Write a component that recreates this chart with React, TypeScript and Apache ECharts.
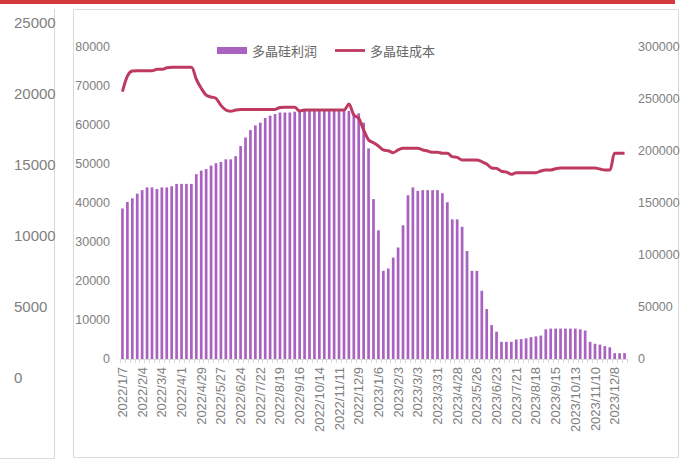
import React, { useEffect, useRef } from "react";
import * as echarts from "echarts";

const categories: string[] = [
  "2022/1/7","2022/1/14","2022/1/21","2022/1/28","2022/2/4","2022/2/11","2022/2/18","2022/2/25",
  "2022/3/4","2022/3/11","2022/3/18","2022/3/25","2022/4/1","2022/4/8","2022/4/15","2022/4/22",
  "2022/4/29","2022/5/6","2022/5/13","2022/5/20","2022/5/27","2022/6/3","2022/6/10","2022/6/17",
  "2022/6/24","2022/7/1","2022/7/8","2022/7/15","2022/7/22","2022/7/29","2022/8/5","2022/8/12",
  "2022/8/19","2022/8/26","2022/9/2","2022/9/9","2022/9/16","2022/9/23","2022/9/30","2022/10/7",
  "2022/10/14","2022/10/21","2022/10/28","2022/11/4","2022/11/11","2022/11/18","2022/11/25","2022/12/2",
  "2022/12/9","2022/12/16","2022/12/23","2022/12/30",
  "2023/1/6","2023/1/13","2023/1/20","2023/1/27","2023/2/3","2023/2/10","2023/2/17","2023/2/24",
  "2023/3/3","2023/3/10","2023/3/17","2023/3/24","2023/3/31","2023/4/7","2023/4/14","2023/4/21",
  "2023/4/28","2023/5/5","2023/5/12","2023/5/19","2023/5/26","2023/6/2","2023/6/9","2023/6/16",
  "2023/6/23","2023/6/30","2023/7/7","2023/7/14","2023/7/21","2023/7/28","2023/8/4","2023/8/11",
  "2023/8/18","2023/8/25","2023/9/1","2023/9/8","2023/9/15","2023/9/22","2023/9/29","2023/10/6",
  "2023/10/13","2023/10/20","2023/10/27","2023/11/3","2023/11/10","2023/11/17","2023/11/24","2023/12/1",
  "2023/12/8","2023/12/15","2023/12/22",
];

// 多晶硅利润 (left axis)
const profit: number[] = [
  38600, 40250, 41200, 42400, 43300, 44000, 44000, 43600, 44000, 44000,
  44300, 44900, 44900, 44900, 44900, 47400, 48300, 48700, 49600, 50200,
  50500, 51200, 51200, 52000, 54600, 56800, 58700, 59900, 60600, 61800,
  62400, 62800, 63200, 63200, 63200, 63400, 63500, 63600, 63600, 63600,
  63600, 63600, 63600, 63600, 63600, 63600, 63600, 63000, 63000, 60600,
  54000, 41000, 33000, 22600, 23200, 26000, 28600, 34300, 42000, 44000,
  43100, 43300, 43300, 43300, 43300, 42500, 40200, 35800, 35800, 33900,
  27700, 22600, 22600, 17500, 12800, 8700, 7000, 4400, 4400, 4400,
  5000, 5100, 5300, 5600, 5800, 6000, 7600, 7800, 7800, 7800,
  7800, 7800, 7800, 7600, 7300, 4400, 3900, 3700, 3300, 3000,
  1500, 1500, 1500,
];

// 多晶硅成本 (right axis)
const cost: number[] = [
  257000, 272000, 277000, 277200, 277200, 277200, 277200, 278500, 278500, 280000,
  280500, 280500, 280500, 280500, 280500, 269000, 260300, 253800, 251900, 250700,
  243900, 239400, 238200, 239400, 240000, 240000, 240000, 240000, 240000, 240000,
  240000, 240000, 241800, 242000, 242000, 242000, 238500, 239400, 239400, 239400,
  239400, 239400, 239400, 239400, 239400, 239400, 245200, 234600, 231400, 220200,
  210600, 208000, 204800, 201000, 200300, 198400, 201000, 202600, 202600, 202600,
  202600, 201000, 200000, 198700, 198700, 197800, 197800, 194500, 193900, 191300,
  191300, 191300, 191300, 189700, 187500, 183600, 183300, 180500, 179800, 177600,
  179100, 179100, 179100, 179100, 179100, 180800, 181700, 181700, 183000, 183600,
  183600, 183600, 183600, 183600, 183600, 183600, 183600, 182700, 181700, 181700,
  197800, 197800, 197800,
];

// cropped neighbouring axis on the far left
const sideTicks = { min: 0, max: 25000, interval: 5000 };
const leftTicks = { min: 0, max: 80000, interval: 10000 };
const rightTicks = { min: 0, max: 300000, interval: 50000 };

const LABEL_FONT = "'Liberation Sans', Arial, sans-serif";
const GREY = "#808080";
const plain = (v: number) => String(v);

export default function App() {
  const ref = useRef<HTMLDivElement>(null);
  useEffect(() => {
    if (!ref.current) return;
    const chart = echarts.init(ref.current, undefined, { renderer: "svg" });
    chart.setOption({
      animation: false,
      backgroundColor: "#ffffff",
      graphic: [
        { type: "rect", shape: { x: 0, y: 0, width: 675, height: 4 }, style: { fill: "#d43a3d" }, silent: true },
        { type: "line", shape: { x1: 54.5, y1: 9, x2: 54.5, y2: 458.5 }, style: { stroke: "#d9d9d9", lineWidth: 1 }, silent: true },
        { type: "line", shape: { x1: 0, y1: 458.5, x2: 54.5, y2: 458.5 }, style: { stroke: "#d9d9d9", lineWidth: 1 }, silent: true },
        { type: "rect", shape: { x: 73.5, y: 9.5, width: 605, height: 448 }, style: { fill: "none", stroke: "#d9d9d9", lineWidth: 1 }, silent: true },
      ],
      legend: {
        left: 212,
        top: 39,
        itemWidth: 30,
        itemHeight: 7,
        itemGap: 18,
        textStyle: { color: "#666666", fontSize: 13, fontFamily: "'Noto Sans CJK SC', sans-serif" },
        data: [
          { name: "多晶硅利润", icon: "rect" },
          { name: "多晶硅成本", icon: "path://M0,0h32v3h-32z" },
        ],
      },
      grid: [
        { left: 120, right: 61, top: 47, bottom: 103, containLabel: false },
        { left: 54, width: 1, top: 22, height: 355, containLabel: false },
      ],
      xAxis: [
        {
          type: "category",
          gridIndex: 0,
          data: categories,
          boundaryGap: true,
          axisLine: { lineStyle: { color: "#d9d9d9", width: 1 } },
          axisTick: { show: true, interval: 0, length: 4, lineStyle: { color: "#d9d9d9" } },
          axisLabel: {
            interval: 3,
            rotate: 90,
            margin: 8,
            fontSize: 13,
            color: GREY,
            fontFamily: LABEL_FONT,
          },
        },
        { type: "category", gridIndex: 1, data: [""], show: false },
      ],
      yAxis: [
        {
          type: "value",
          gridIndex: 0,
          ...leftTicks,
          splitLine: { show: false },
          axisLine: { show: false },
          axisTick: { show: false },
          axisLabel: { margin: 10, fontSize: 12.5, color: GREY, fontFamily: LABEL_FONT, formatter: plain },
        },
        {
          type: "value",
          gridIndex: 0,
          position: "right",
          ...rightTicks,
          splitLine: { show: false },
          axisLine: { show: false },
          axisTick: { show: false },
          axisLabel: { margin: 11, fontSize: 12.5, color: GREY, fontFamily: LABEL_FONT, formatter: plain },
        },
        {
          type: "value",
          gridIndex: 1,
          ...sideTicks,
          splitLine: { show: false },
          axisLine: { show: false },
          axisTick: { show: false },
          axisLabel: { margin: 40, align: "left", fontSize: 15, color: GREY, fontFamily: LABEL_FONT, formatter: plain },
        },
      ],
      series: [
        {
          name: "多晶硅利润",
          type: "bar",
          xAxisIndex: 0,
          yAxisIndex: 0,
          data: profit,
          barWidth: "55%",
          itemStyle: { color: "#aa62c1" },
          z: 2,
        },
        {
          name: "多晶硅成本",
          type: "line",
          xAxisIndex: 0,
          yAxisIndex: 1,
          data: cost,
          symbol: "none",
          smooth: 0.3,
          lineStyle: { color: "#be3a60", width: 3 },
          itemStyle: { color: "#be3a60" },
          z: 3,
        },
      ],
    });
    return () => chart.dispose();
  }, []);
  return (
    <div
      ref={ref}
      style={{ position: "fixed", left: 0, top: 0, width: 688, height: 462 }}
    />
  );
}
